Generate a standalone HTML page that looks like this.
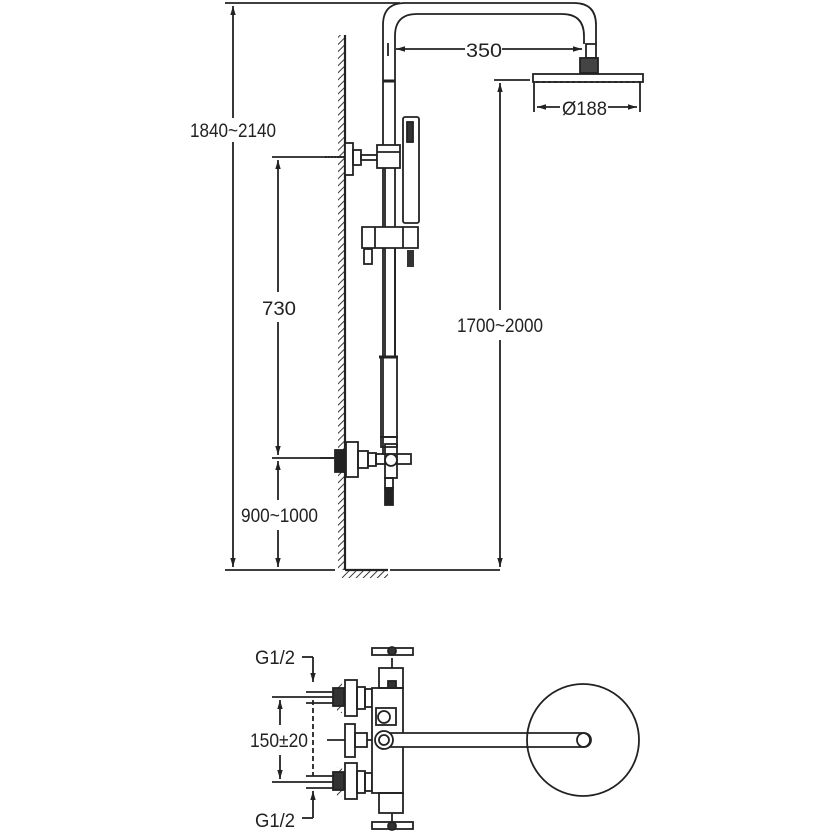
<!DOCTYPE html>
<html><head><meta charset="utf-8"><style>
html,body{margin:0;padding:0;background:#fff}
svg{display:block}
text{font-family:"Liberation Sans Narrow","Liberation Sans",sans-serif;font-size:19px;fill:#222}
</style></head><body>
<svg width="834" height="833" viewBox="0 0 834 833" xmlns="http://www.w3.org/2000/svg">
<defs>
<pattern id="h" width="5" height="5" patternUnits="userSpaceOnUse" patternTransform="rotate(45)">
<line x1="0" y1="0" x2="0" y2="5" stroke="#222" stroke-width="1.8"/></pattern>
<marker id="a" viewBox="0 0 10 10" refX="10" refY="5" markerWidth="9" markerHeight="9" orient="auto-start-reverse" markerUnits="userSpaceOnUse">
<path d="M0,2 L10,5 L0,8 z" fill="#222"/></marker>
</defs>
<g stroke="#222" fill="none" stroke-width="1.8">
<line x1="225" y1="3" x2="400" y2="3"/>
<line x1="225" y1="570" x2="335" y2="570"/>
<line x1="390" y1="570" x2="500" y2="570"/>
<line x1="233" y1="6" x2="233" y2="118" marker-start="url(#a)"/>
<line x1="233" y1="142" x2="233" y2="567" marker-end="url(#a)"/>
<line x1="272" y1="157" x2="345" y2="157"/>
<line x1="272" y1="458" x2="335" y2="458"/>
<line x1="278" y1="160" x2="278" y2="292" marker-start="url(#a)"/>
<line x1="278" y1="322" x2="278" y2="455" marker-end="url(#a)"/>
<line x1="278" y1="461" x2="278" y2="500" marker-start="url(#a)"/>
<line x1="278" y1="530" x2="278" y2="567" marker-end="url(#a)"/>
<rect x="338" y="35" width="7" height="535" fill="url(#h)" stroke="none"/>
<line x1="345" y1="35" x2="345" y2="570" stroke-width="2.2"/>
<rect x="342" y="571" width="46" height="7" fill="url(#h)" stroke="none"/>
<line x1="345" y1="570" x2="388" y2="570" stroke-width="2.2"/>
<path d="M383,455 L383,25 Q383,3 405,3 L574,3 Q596,3 596,25 L596,44"/>
<path d="M395,356 L395,36 Q395,14 417,14 L562,14 Q584,14 584,36 L584,44"/>
<line x1="383" y1="81" x2="395" y2="81" stroke-width="3"/>
<line x1="388" y1="43" x2="388" y2="56"/>
<line x1="396" y1="49" x2="465" y2="49" marker-start="url(#a)"/>
<line x1="502" y1="49" x2="582" y2="49" marker-end="url(#a)"/>
<rect x="586" y="44" width="10" height="14"/>
<rect x="580" y="58" width="18" height="15" fill="#444"/>
<rect x="533" y="74" width="110" height="8"/>
<line x1="536" y1="82" x2="643" y2="82" stroke-dasharray="3 3"/>
<line x1="534" y1="82" x2="534" y2="112"/>
<line x1="640" y1="82" x2="640" y2="112"/>
<line x1="537" y1="107" x2="560" y2="107" marker-start="url(#a)"/>
<line x1="608" y1="107" x2="637" y2="107" marker-end="url(#a)"/>
<line x1="494" y1="80" x2="530" y2="80"/>
<line x1="500" y1="83" x2="500" y2="310" marker-start="url(#a)"/>
<line x1="500" y1="340" x2="500" y2="567" marker-end="url(#a)"/>
<line x1="325" y1="157" x2="344" y2="157" stroke-dasharray="2 1"/>
<rect x="345" y="143" width="8" height="32" fill="#fff"/>
<rect x="353" y="150" width="8" height="15"/>
<rect x="361" y="155" width="16" height="5"/>
<rect x="377" y="145" width="23" height="23" fill="#fff"/>
<line x1="377" y1="152" x2="400" y2="152"/>
<rect x="403" y="117" width="16" height="106" rx="2" fill="#fff"/>
<rect x="407" y="122" width="6" height="20" fill="#333"/>
<rect x="407" y="250" width="7" height="17" fill="#333" stroke="none"/>
<path d="M362,227 L418,227 L418,248 L362,248 Z" fill="#fff"/>
<line x1="375" y1="227" x2="375" y2="248"/>
<line x1="403" y1="227" x2="403" y2="248"/>
<rect x="364" y="249" width="8" height="15"/>
<line x1="385" y1="248" x2="385" y2="356"/>
<line x1="395" y1="248" x2="395" y2="356"/>
<line x1="385" y1="168" x2="385" y2="227"/>
<line x1="379" y1="357" x2="398" y2="357" stroke-width="3"/>
<rect x="381" y="357" width="16" height="80"/>
<rect x="335" y="450" width="11" height="22" fill="#222"/>
<line x1="320" y1="458" x2="335" y2="458"/>
<rect x="346" y="442" width="12" height="35" fill="#fff"/>
<rect x="358" y="451" width="10" height="17"/>
<rect x="368" y="453" width="8" height="13"/>
<rect x="381" y="437" width="16" height="10"/>
<rect x="376" y="454" width="35" height="10"/>
<rect x="385" y="444" width="12" height="34"/>
<circle cx="391" cy="460" r="6" fill="#fff"/>
<rect x="385" y="478" width="8" height="10"/>
<rect x="385" y="488" width="8" height="17" fill="#222"/>
<line x1="302" y1="657" x2="313" y2="657"/>
<line x1="313" y1="657" x2="313" y2="682" marker-end="url(#a)"/>
<line x1="313" y1="700" x2="313" y2="776" stroke-dasharray="5 3"/>
<line x1="302" y1="818" x2="313" y2="818"/>
<line x1="313" y1="818" x2="313" y2="791" marker-end="url(#a)"/>
<line x1="306" y1="692" x2="340" y2="692"/>
<line x1="272" y1="697" x2="340" y2="697"/>
<line x1="306" y1="703" x2="340" y2="703"/>
<line x1="306" y1="776" x2="340" y2="776"/>
<line x1="272" y1="782" x2="340" y2="782"/>
<line x1="306" y1="788" x2="340" y2="788"/>
<line x1="280" y1="700" x2="280" y2="725" marker-start="url(#a)"/>
<line x1="280" y1="755" x2="280" y2="779" marker-end="url(#a)"/>
<rect x="337" y="683" width="5" height="30" fill="url(#h)" stroke="none"/>
<rect x="333" y="688" width="11" height="18" fill="#333"/>
<rect x="345" y="680" width="12" height="36" fill="#fff"/>
<rect x="357" y="687" width="8" height="22"/>
<rect x="365" y="689" width="7" height="18"/>
<rect x="337" y="767" width="5" height="30" fill="url(#h)" stroke="none"/>
<rect x="333" y="772" width="11" height="18" fill="#333"/>
<rect x="345" y="763" width="12" height="36" fill="#fff"/>
<rect x="357" y="771" width="8" height="22"/>
<rect x="365" y="773" width="7" height="18"/>
<line x1="327" y1="740" x2="345" y2="740"/>
<rect x="345" y="724" width="10" height="33" fill="#fff"/>
<rect x="355" y="733" width="12" height="14"/>
<line x1="367" y1="740" x2="378" y2="740"/>
<rect x="372" y="688" width="31" height="105" fill="#fff"/>
<rect x="379" y="668" width="24" height="20"/>
<rect x="379" y="793" width="24" height="20"/>
<circle cx="384" cy="717" r="6"/>
<rect x="376" y="708" width="20" height="17"/>
<rect x="388" y="681" width="8" height="7" fill="#333"/>
<line x1="392" y1="658" x2="392" y2="668"/>
<rect x="372" y="648" width="41" height="7" fill="#fff"/>
<circle cx="392" cy="651" r="4" fill="#333"/>
<line x1="392" y1="813" x2="392" y2="822"/>
<rect x="372" y="822" width="41" height="7" fill="#fff"/>
<circle cx="392" cy="826" r="4" fill="#333"/>
<path d="M384,733 L583,733 A7,7 0 0 1 583,747 L384,747" fill="#fff"/>
<circle cx="384" cy="740" r="9" fill="#fff"/>
<circle cx="384" cy="740" r="5"/>
<circle cx="583" cy="740" r="56"/>
<circle cx="584" cy="740" r="7"/>
</g>
<g>
<text x="190" y="137" textLength="86" lengthAdjust="spacingAndGlyphs">1840~2140</text>
<text x="262" y="315" textLength="34" lengthAdjust="spacingAndGlyphs">730</text>
<text x="241" y="522" textLength="77" lengthAdjust="spacingAndGlyphs">900~1000</text>
<text x="457" y="332" textLength="86" lengthAdjust="spacingAndGlyphs">1700~2000</text>
<text x="466" y="57" textLength="36" lengthAdjust="spacingAndGlyphs">350</text>
<text x="562" y="115" textLength="45" lengthAdjust="spacingAndGlyphs">Ø188</text>
<text x="255" y="664" textLength="40" lengthAdjust="spacingAndGlyphs">G1/2</text>
<text x="255" y="827" textLength="40" lengthAdjust="spacingAndGlyphs">G1/2</text>
<text x="250" y="747" textLength="58" lengthAdjust="spacingAndGlyphs">150±20</text>
</g>
</svg>
</body></html>
